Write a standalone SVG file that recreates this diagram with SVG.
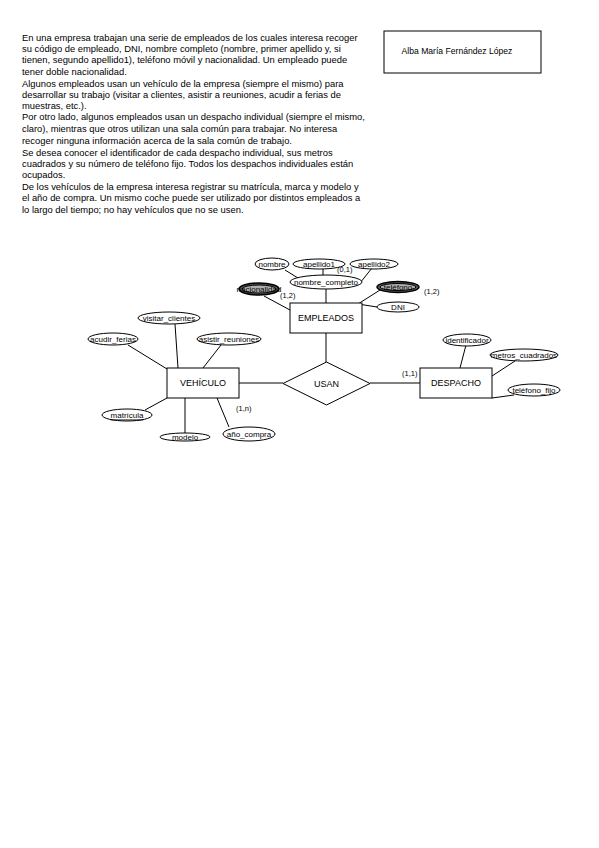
<svg xmlns="http://www.w3.org/2000/svg" width="599" height="848" viewBox="0 0 599 848">
<style>
.body{font-family:"Liberation Sans",Arial,sans-serif;font-size:9.4px;fill:#000}
.box{fill:#fff;stroke:#000;stroke-width:1}
.ent{font-family:"Liberation Sans",Arial,sans-serif;font-size:9px;fill:#000;text-anchor:middle;dominant-baseline:central}
.att{fill:#fff;stroke:#000;stroke-width:1}
.mv{fill:#555;stroke:#000;stroke-width:1.5}
.mvi{fill:#b0b0b0;stroke:#000;stroke-width:1}
.at{font-family:"Liberation Sans",Arial,sans-serif;font-size:8px;fill:#000;text-anchor:middle;dominant-baseline:central}
.card{font-family:"Liberation Sans",Arial,sans-serif;font-size:7.5px;fill:#000}
.ln{stroke:#000;stroke-width:1;fill:none}
</style>
<rect width="599" height="848" fill="#fff"/>
<g id="enunciado" class="body">
<text x="22" y="41">En una empresa trabajan una serie de empleados de los cuales interesa recoger</text>
<text x="22" y="52">su código de empleado, DNI, nombre completo (nombre, primer apellido y, si</text>
<text x="22" y="63">tienen, segundo apellido1), teléfono móvil y nacionalidad. Un empleado puede</text>
<text x="22" y="75">tener doble nacionalidad.</text>
<text x="22" y="87">Algunos empleados usan un vehículo de la empresa (siempre el mismo) para</text>
<text x="22" y="98">desarrollar su trabajo (visitar a clientes, asistir a reuniones, acudir a ferias de</text>
<text x="22" y="109">muestras, etc.).</text>
<text x="22" y="120">Por otro lado, algunos empleados usan un despacho individual (siempre el mismo,</text>
<text x="22" y="132">claro), mientras que otros utilizan una sala común para trabajar. No interesa</text>
<text x="22" y="144">recoger ninguna información acerca de la sala común de trabajo.</text>
<text x="22" y="156">Se desea conocer el identificador de cada despacho individual, sus metros</text>
<text x="22" y="167">cuadrados y su número de teléfono fijo. Todos los despachos individuales están</text>
<text x="22" y="178">ocupados.</text>
<text x="22" y="190">De los vehículos de la empresa interesa registrar su matrícula, marca y modelo y</text>
<text x="22" y="201">el año de compra. Un mismo coche puede ser utilizado por distintos empleados a</text>
<text x="22" y="213">lo largo del tiempo; no hay vehículos que no se usen.</text>
</g>
<g id="autora">
<rect class="box" x="384" y="31" width="157" height="42"/>
<text class="ent" x="457" y="51" style="font-size:8.6px">Alba María Fernández López</text>
</g>
<g id="connectors" class="ln">
<line x1="326" y1="333" x2="326" y2="362"/>
<line x1="239" y1="383" x2="283" y2="383"/>
<line x1="370" y1="383" x2="420" y2="383"/>
<line x1="326" y1="289" x2="326" y2="303"/>
<line x1="285" y1="270" x2="298" y2="278"/>
<line x1="323" y1="269" x2="323" y2="276"/>
<line x1="372" y1="268" x2="360" y2="283"/>
<line x1="264" y1="296" x2="290" y2="310"/>
<line x1="358" y1="304" x2="380" y2="290"/>
<line x1="358" y1="304" x2="377" y2="307"/>
<line x1="175" y1="324" x2="178" y2="368"/>
<line x1="128" y1="345" x2="167" y2="369"/>
<line x1="221" y1="345" x2="203" y2="368"/>
<line x1="167" y1="398" x2="145" y2="410"/>
<line x1="185" y1="398" x2="185" y2="433"/>
<line x1="217" y1="398" x2="229" y2="427"/>
<line x1="460" y1="368" x2="466" y2="345"/>
<line x1="492" y1="376" x2="515" y2="361"/>
<line x1="492" y1="398" x2="514" y2="395"/>
</g>
<g id="empleados">
<rect class="box" x="290" y="303" width="72" height="30"/>
<text class="ent" x="326" y="318">EMPLEADOS</text>
</g>
<g id="usan">
<polygon class="box" points="326.5,362 370,383.5 326.5,405 283,383.5"/>
<text class="ent" x="326.5" y="383.5">USAN</text>
</g>
<g id="vehiculo">
<rect class="box" x="167" y="368" width="72" height="30"/>
<text class="ent" x="203" y="383">VEHÍCULO</text>
</g>
<g id="despacho">
<rect class="box" x="420" y="368" width="72" height="30"/>
<text class="ent" x="456" y="383">DESPACHO</text>
</g>
<g id="attr-nombre"><ellipse class="att" cx="272" cy="264" rx="17" ry="6"/><text class="at" x="272" y="264">nombre</text></g>
<g id="attr-apellido1"><ellipse class="att" cx="319" cy="264" rx="26" ry="5"/><text class="at" x="319" y="264">apellido1</text></g>
<g id="attr-apellido2"><ellipse class="att" cx="374" cy="264" rx="24" ry="5"/><text class="at" x="374" y="264">apellido2</text></g>
<g id="attr-nombre_completo"><ellipse class="att" cx="326" cy="282" rx="36" ry="7"/><text class="at" x="326" y="282">nombre_completo</text></g>
<g id="attr-nacionalidad"><ellipse class="mv" cx="259" cy="289" rx="20" ry="6"/><ellipse class="mvi" cx="259" cy="289" rx="17" ry="4"/><text class="at" x="259" y="289">nacionalidad</text></g>
<g id="attr-telefono"><ellipse class="mv" cx="398" cy="287" rx="21" ry="5.5"/><ellipse class="mvi" cx="398" cy="287" rx="18" ry="3.5"/><text class="at" x="398" y="287">teléfono</text></g>
<g id="attr-dni"><ellipse class="att" cx="398" cy="307" rx="21" ry="5"/><text class="at" x="398" y="307">DNI</text></g>
<g id="attr-visitar_clientes"><ellipse class="att" cx="169" cy="318" rx="31" ry="6"/><text class="at" x="169" y="318">visitar_clientes</text></g>
<g id="attr-acudir_ferias"><ellipse class="att" cx="113" cy="339" rx="25" ry="6"/><text class="at" x="113" y="339">acudir_ferias</text></g>
<g id="attr-asistir_reuniones"><ellipse class="att" cx="229" cy="339" rx="32" ry="6"/><text class="at" x="229" y="339">asistir_reuniones</text></g>
<g id="attr-matricula"><ellipse class="att" cx="127" cy="415" rx="25" ry="6"/><text class="at" x="127" y="415" text-decoration="underline">matrícula</text></g>
<g id="attr-modelo"><ellipse class="att" cx="185" cy="437" rx="25" ry="4"/><text class="at" x="185" y="437">modelo</text></g>
<g id="attr-ano_compra"><ellipse class="att" cx="249" cy="434" rx="26" ry="7"/><text class="at" x="249" y="434">año_compra</text></g>
<g id="attr-identificador"><ellipse class="att" cx="467" cy="340" rx="24" ry="6"/><text class="at" x="467" y="340">identificador</text></g>
<g id="attr-metros_cuadrados"><ellipse class="att" cx="524" cy="355" rx="34" ry="6"/><text class="at" x="524" y="355">metros_cuadrados</text></g>
<g id="attr-telefono_fijo"><ellipse class="att" cx="534" cy="390" rx="26" ry="6"/><text class="at" x="534" y="390">teléfono_fijo</text></g>
<g id="cardinalidades" class="card">
<text x="337" y="272">(0,1)</text>
<text x="280" y="298">(1,2)</text>
<text x="424" y="294">(1,2)</text>
<text x="402" y="376">(1,1)</text>
<text x="236" y="411">(1,n)</text>
</g>
</svg>
